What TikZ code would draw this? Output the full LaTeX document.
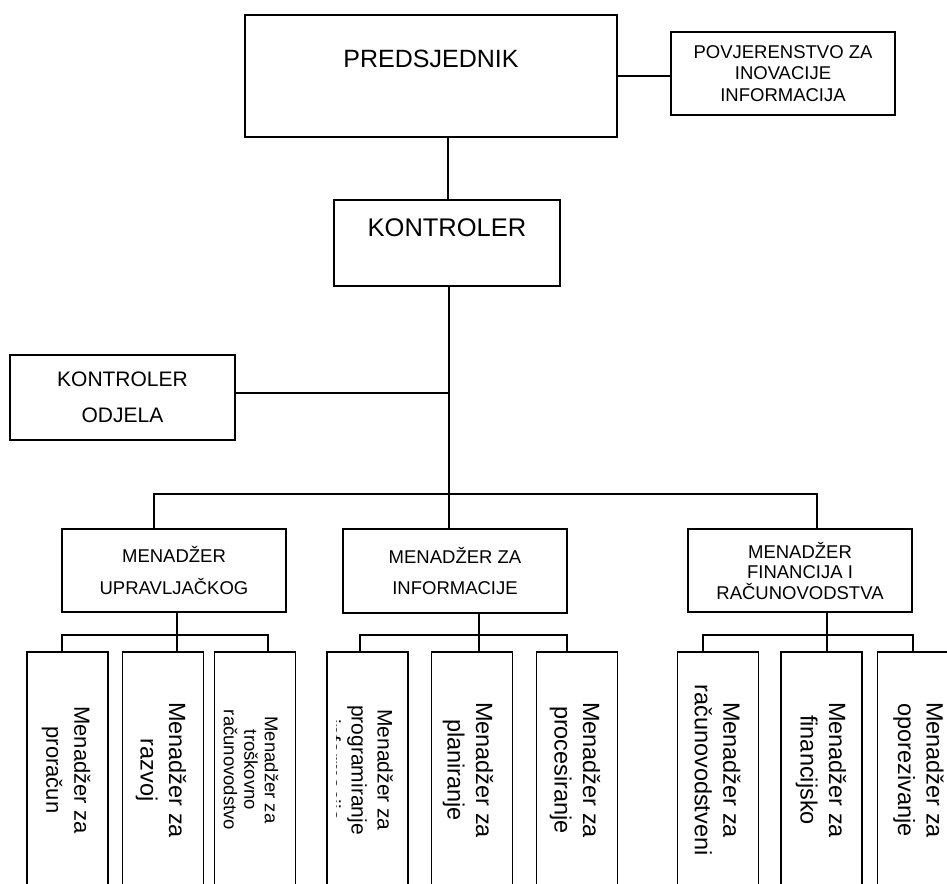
\documentclass[tikz,border=0pt]{standalone}
\usepackage{fontspec}
\setmainfont{Liberation Sans}
\begin{document}
\begin{tikzpicture}[x=1pt,y=-1pt,
  box/.style={draw, line width=1.8pt, rectangle, inner sep=0pt, align=center},
  conn/.style={line width=1.3pt},
  kid/.style={box, minimum width=81pt, minimum height=240pt},
  mid/.style={box, minimum width=224pt, font=\fontsize{18.5}{32}\selectfont},
  vtext/.style={rotate=-90, align=center, inner sep=0pt},
  vbig/.style={vtext, font=\fontsize{23.5}{28.5}\selectfont},
]
\path[use as bounding box] (0,0) rectangle (947,883);
\clip (0,0) rectangle (947,883);

% top level
\node[box, minimum width=372pt, minimum height=122pt] (pred) at (431,76) {};
\node[anchor=base, inner sep=0pt, font=\fontsize{25}{30}\selectfont] (predT) at (431,67) {PREDSJEDNIK};
\node[box, minimum width=224pt, minimum height=83pt, font=\fontsize{18.5}{21.5}\selectfont] (pov) at (783,73.5)
  {POVJERENSTVO ZA\\INOVACIJE\\INFORMACIJA};
\node[box, minimum width=226pt, minimum height=86pt] (kon) at (447,243) {};
\node[anchor=base, inner sep=0pt, font=\fontsize{25.5}{30}\selectfont] (konT) at (447,236) {KONTROLER};
\node[box, minimum width=225pt, minimum height=85pt, font=\fontsize{21}{36}\selectfont] (ko) at (122.5,397.5)
  {KONTROLER\\ODJELA};

% middle level
\node[mid, minimum height=83pt] (m1) at (174,570.5) {MENADŽER\\UPRAVLJAČKOG};
\node[mid, minimum height=84pt] (m2) at (455,571) {MENADŽER ZA\\[-1pt]INFORMACIJE};
\node[mid, minimum height=83pt, font=\fontsize{18.5}{20.5}\selectfont] (m3) at (800,570.5)
  {MENADŽER\\FINANCIJA I\\RAČUNOVODSTVA};

% bottom level boxes
\node[kid] (b1) at (67.5,772) {};
\node[kid] (b2) at (163,772) {};
\node[kid] (b3) at (255,772) {};
\node[kid] (b4) at (367.5,772) {};
\node[kid] (b5) at (472,772) {};
\node[kid] (b6) at (577,772) {};
\node[kid] (b7) at (718,772) {};
\node[kid] (b8) at (821.5,772) {};
\node[kid] (b9) at (918,772) {};

% rotated texts
\node[vtext, font=\fontsize{22}{28}\selectfont] (t1) at (66,770) {Menadžer za\\proračun};
\node[vbig] (t2) at (161,770) {Menadžer za\\razvoj};
\node[vtext, font=\fontsize{18.5}{20.5}\selectfont] (t3) at (251,770) {Menadžer za\\troškovno\\računovodstvo};
\begin{scope}
  \clip (336,652) rectangle (408,883);
  \node[vtext, font=\fontsize{21}{26}\selectfont] (t4) at (357,770) {Menadžer za\\programiranje\\informacija};
\end{scope}
\node[vbig] (t5) at (468,770) {Menadžer za\\planiranje};
\node[vbig] (t6) at (575,770) {Menadžer za\\procesiranje};
\node[vbig] (t7) at (717.5,770) {Menadžer za\\računovodstveni};
\node[vbig] (t8) at (821,770) {Menadžer za\\financijsko};
\node[vbig] (t9) at (918.5,770) {Menadžer za\\oporezivanje};

% connectors
\draw[conn] (pred.east) -- (pred.east -| pov.west);
\draw[conn] ([xshift=1pt]kon.north) -- ([xshift=1pt]kon.north |- pred.south);
\draw[conn] ([xshift=2pt]kon.south) -- ([xshift=2pt]kon.south |- m2.north);
\draw[conn] ([yshift=4.5pt]ko.east) -- ([yshift=4.5pt,xshift=2pt]ko.east -| kon.south);

\coordinate (busL) at (154,494);
\coordinate (busR) at (817,494);
\draw[conn] (m1.north -| busL) -- (busL) -- (busR) -- (m3.north -| busR);

\coordinate (g1) at (177,635);
\coordinate (g1L) at (62,635);
\coordinate (g1R) at (268,635);
\draw[conn] (m1.south -| g1) -- (b2.north -| g1);
\draw[conn] (b1.north -| g1L) -- (g1L) -- (g1R) -- (b3.north -| g1R);

\coordinate (g2) at (479,635);
\coordinate (g2L) at (360,635);
\coordinate (g2R) at (567,635);
\draw[conn] (m2.south -| g2) -- (b5.north -| g2);
\draw[conn] (b4.north -| g2L) -- (g2L) -- (g2R) -- (b6.north -| g2R);

\coordinate (g3) at (827,635);
\coordinate (g3L) at (703,635);
\coordinate (g3R) at (913,635);
\draw[conn] (m3.south -| g3) -- (b8.north -| g3);
\draw[conn] (b7.north -| g3L) -- (g3L) -- (g3R) -- (b9.north -| g3R);
\end{tikzpicture}
\end{document}
